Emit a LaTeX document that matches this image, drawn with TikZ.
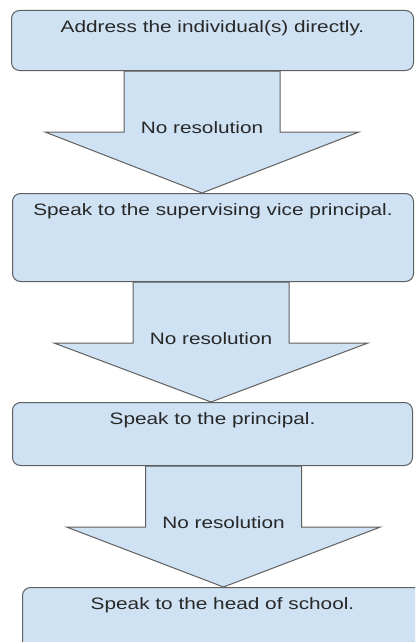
\documentclass[tikz,border=0pt]{standalone}
\usepackage{fontspec}
\setmainfont[FakeStretch=1.26]{Liberation Sans}
\usetikzlibrary{calc,backgrounds}
\definecolor{boxfill}{RGB}{207,226,243}
\definecolor{boxline}{RGB}{95,95,95}
\definecolor{textcol}{RGB}{40,40,40}

\begin{document}
\begin{tikzpicture}[x=1pt, y=-1pt,
  stepbox/.style={draw=boxline, fill=boxfill, rounded corners=8pt, line width=1pt,
    anchor=north west, inner ysep=10pt, text height=12pt,
    font=\fontsize{16.5}{19}\selectfont, text=textcol},
  flowarrow/.style={draw=boxline, fill=boxfill, line width=1pt},
  flowlabel/.style={anchor=base, font=\fontsize{16.5}{19}\selectfont, text=textcol}]

% page frame
\useasboundingbox (0,0) rectangle (415,642);
\clip (0,0) rectangle (415,642);

% ================= STEPS =================
\node[stepbox, minimum width=402pt, text depth=28pt] (b1) at (11,10)
  {Address the individual(s) directly.};
\node[stepbox, minimum width=401pt, text depth=56pt] (b2) at (12,193)
  {Speak to the supervising vice principal.};
\node[stepbox, minimum width=400pt, text depth=31pt] (b3) at (12,402)
  {Speak to the principal.};
\node[stepbox, minimum width=400pt, text depth=50pt] (b4) at (22,587)
  {Speak to the head of school.};

% ================= BLOCK ARROWS =================
\begin{scope}[on background layer]
\foreach \from/\to/\dx in {b1/b2/-10.5, b2/b3/-2, b3/b4/11} {
  \coordinate (tail) at ([xshift=\dx pt]\from.south);
  \coordinate (tip) at (tail |- \to.north);
  \filldraw[flowarrow] ($(tail)+(-78,0)$) -- ++(0,61) -- ++(-79,0) -- (tip)
    -- ($(tail)+(157,61)$) -- ++(-79,0) -- ($(tail)+(78,0)$) -- cycle;
  \node[flowlabel] (lab-\from) at ($(tail)+(0,62)$) {No resolution};
}
\end{scope}

\end{tikzpicture}
\end{document}
